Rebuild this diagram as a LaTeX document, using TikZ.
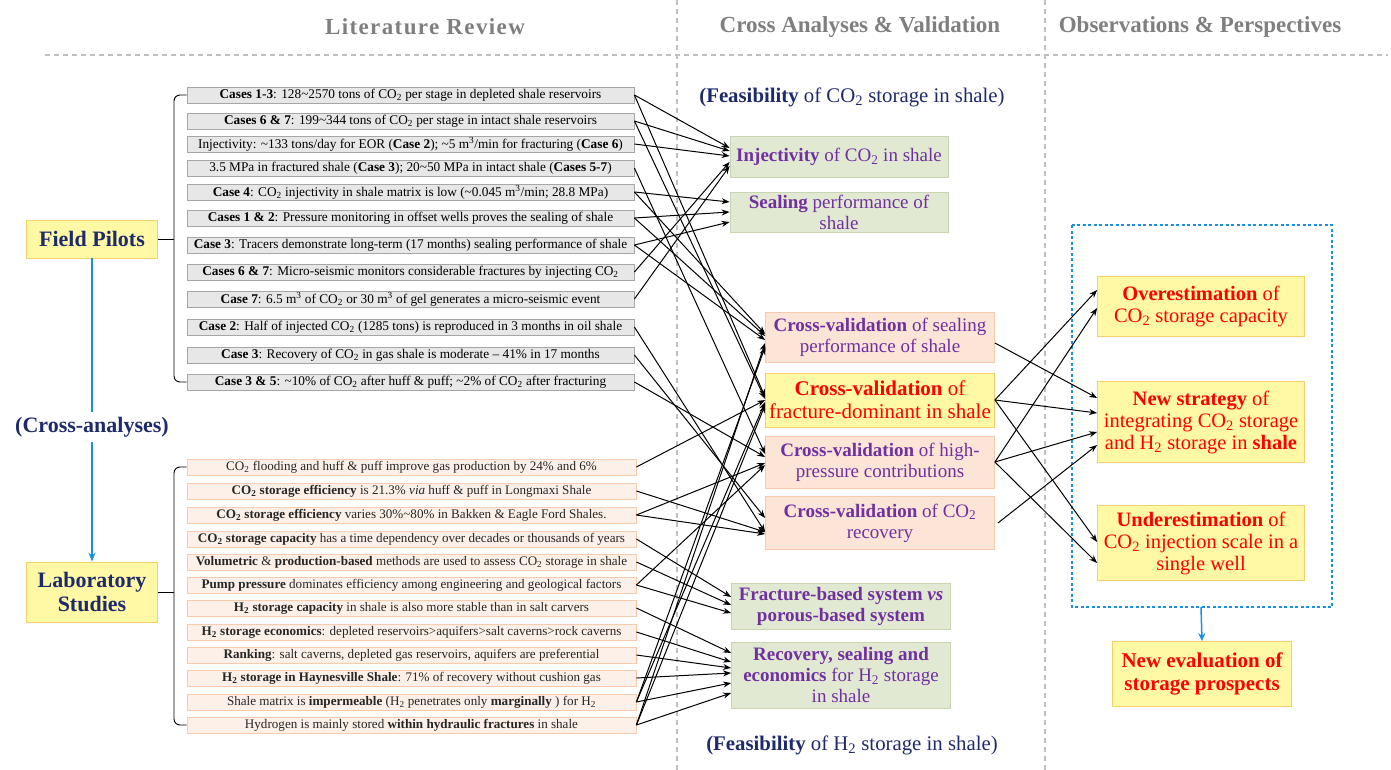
\documentclass[tikz,border=0pt]{standalone}
\usepackage{fontspec}
\setmainfont{Liberation Serif}
\usetikzlibrary{arrows.meta,calc}
\newcommand\cotwo{CO\textsubscript{2}}
\newcommand\htwo{H\textsubscript{2}}
\newcommand\mthree{m\textsuperscript{3}}
\definecolor{gfill}{HTML}{E7E7E7}
\definecolor{gdraw}{HTML}{A6A6A6}
\definecolor{lfill}{HTML}{FDF0E8}
\definecolor{ldraw}{HTML}{F8CBAD}
\definecolor{grnfill}{HTML}{E2E9D3}
\definecolor{grndraw}{HTML}{C9D5B2}
\definecolor{yfill}{HTML}{FFF9A6}
\definecolor{ydraw}{HTML}{F2D16B}
\definecolor{pfill}{HTML}{FCE4D6}
\definecolor{pdraw}{HTML}{F8CBAD}
\definecolor{navy}{HTML}{1F2A6B}
\definecolor{purp}{HTML}{7030A0}
\definecolor{redt}{HTML}{FF0000}
\definecolor{bluel}{HTML}{1A8FE3}
\definecolor{hdr}{HTML}{7F7F7F}
\definecolor{dashg}{HTML}{BFBFBF}
\definecolor{labtext}{HTML}{262626}
\begin{document}
\begin{tikzpicture}[x=1pt,y=-1pt,
  fbox/.style={draw=gdraw,fill=gfill,minimum width=447pt,minimum height=16pt,inner sep=0pt,line width=0.8pt,font=\fontsize{13.3}{15}\selectfont},
  lbox/.style={draw=ldraw,fill=lfill,minimum width=449pt,minimum height=16pt,inner sep=0pt,line width=0.8pt,text=labtext,font=\fontsize{13.1}{15}\selectfont},
  gbox/.style={draw=grndraw,fill=grnfill,line width=0.8pt,align=center,inner sep=0pt,text=purp,font=\fontsize{19}{21}\selectfont},
  pbox/.style={draw=pdraw,fill=pfill,line width=0.8pt,align=center,inner sep=0pt,text=purp,font=\fontsize{19}{21}\selectfont,minimum width=229pt},
  ybox/.style={draw=ydraw,fill=yfill,line width=0.8pt,align=center,inner sep=0pt,text=redt,font=\fontsize{20.5}{22}\selectfont},
  hdrtext/.style={text=hdr,font=\fontsize{23}{26}\selectfont\bfseries},
  navytext/.style={text=navy,font=\fontsize{20.8}{24}\selectfont},
  catbox/.style={draw=ydraw,fill=yfill,line width=0.8pt,minimum width=131pt,inner sep=0pt,align=center,text=navy,font=\fontsize{22}{24}\selectfont\bfseries},
  arr/.style={-{Stealth[length=8pt,width=6pt]},line width=1pt,black},
  dashline/.style={dashg,line width=2pt,dash pattern=on 5pt off 4pt},
  bluearr/.style={bluel,line width=1.5pt}
]
\useasboundingbox (0,0) rectangle (1391,770);
% grid lines
\draw[dashline] (45,55) -- (1388,55);
\draw[dashline] (677,0) -- (677,770);
\draw[dashline] (1045,0) -- (1045,770);
% headers
\node[hdrtext] (h1) at (425,27) {\addfontfeature{LetterSpace=6}Literature Review};
\node[hdrtext] (h2) at (860,27) {Cross Analyses \& Validation};
\node[hdrtext] (h3) at (1200,27) {Observations \& Perspectives};
% field pilot boxes
\node[fbox] (f1) at (410.5,95) {\textbf{Cases 1-3}: 128\textasciitilde2570 tons of \cotwo{} per stage in depleted shale reservoirs};
\node[fbox] (f2) at (410.5,121) {\textbf{Cases 6 \& 7}: 199\textasciitilde344 tons of \cotwo{} per stage in intact shale reservoirs};
\node[fbox] (f3) at (410.5,144) {Injectivity: \textasciitilde133 tons/day for EOR (\textbf{Case 2}); \textasciitilde5 \mthree/min for fracturing (\textbf{Case 6})};
\node[fbox] (f4) at (410.5,168) {3.5 MPa in fractured shale (\textbf{Case 3}); 20\textasciitilde50 MPa in intact shale (\textbf{Cases 5-7})};
\node[fbox] (f5) at (410.5,192) {\textbf{Case 4}: \cotwo{} injectivity in shale matrix is low (\textasciitilde0.045 \mthree/min; 28.8 MPa)};
\node[fbox] (f6) at (410.5,218) {\textbf{Cases 1 \& 2}: Pressure monitoring in offset wells proves the sealing of shale};
\node[fbox] (f7) at (410.5,245) {\textbf{Case 3}: Tracers demonstrate long-term (17 months) sealing performance of shale};
\node[fbox] (f8) at (410.5,272) {\textbf{Cases 6 \& 7}: Micro-seismic monitors considerable fractures by injecting \cotwo};
\node[fbox] (f9) at (410.5,299) {\textbf{Case 7}: 6.5 \mthree{} of \cotwo{} or 30 \mthree{} of gel generates a micro-seismic event};
\node[fbox] (f10) at (410.5,327) {\textbf{Case 2}: Half of injected \cotwo{} (1285 tons) is reproduced in 3 months in oil shale};
\node[fbox] (f11) at (410.5,355) {\textbf{Case 3}: Recovery of \cotwo{} in gas shale is moderate -- 41\% in 17 months};
\node[fbox] (f12) at (410.5,382) {\textbf{Case 3 \& 5}: \textasciitilde10\% of \cotwo{} after huff \& puff; \textasciitilde2\% of \cotwo{} after fracturing};
% lab boxes
\node[lbox] (l1) at (411.5,467) {\cotwo{} flooding and huff \& puff improve gas production by 24\% and 6\%};
\node[lbox] (l2) at (411.5,491) {\textbf{\cotwo{} storage efficiency} is 21.3\% \textit{via} huff \& puff in Longmaxi Shale};
\node[lbox] (l3) at (411.5,515) {\textbf{\cotwo{} storage efficiency} varies 30\%\textasciitilde80\% in Bakken \& Eagle Ford Shales.};
\node[lbox] (l4) at (411.5,539) {\textbf{\cotwo{} storage capacity} has a time dependency over decades or thousands of years};
\node[lbox] (l5) at (411.5,562) {\textbf{Volumetric} \& \textbf{production-based} methods are used to assess \cotwo{} storage in shale};
\node[lbox] (l6) at (411.5,585) {\textbf{Pump pressure} dominates efficiency among engineering and geological factors};
\node[lbox] (l7) at (411.5,608) {\textbf{\htwo{} storage capacity} in shale is also more stable than in salt carvers};
\node[lbox] (l8) at (411.5,632) {\textbf{\htwo{} storage economics}: depleted reservoirs>aquifers>salt caverns>rock caverns};
\node[lbox] (l9) at (411.5,655) {\textbf{Ranking}: salt caverns, depleted gas reservoirs, aquifers are preferential};
\node[lbox] (l10) at (411.5,678) {\textbf{\htwo{} storage in Haynesville Shale}: 71\% of recovery without cushion gas};
\node[lbox] (l11) at (411.5,702) {Shale matrix is \textbf{impermeable} (\htwo{} penetrates only \textbf{marginally} ) for \htwo};
\node[lbox] (l12) at (411.5,725) {Hydrogen is mainly stored \textbf{within hydraulic fractures} in shale};
% left category boxes
\node[catbox,minimum height=38pt] (fp) at (92,239) {Field Pilots};
\node[catbox,minimum height=60pt] (lab) at (92,592) {Laboratory\\Studies};
\node[text=navy,font=\fontsize{22}{24}\selectfont\bfseries,inner sep=3pt] (ca) at (92,427) {(Cross-analyses)};
\draw[bluearr] (fp.south) -- ([yshift=2pt]ca.north);
\draw[bluearr,-{Stealth[length=9pt,width=7pt]}] ([yshift=-2pt]ca.south) -- (lab.north);
% brackets
\coordinate (bx) at (174,0);
\draw[line width=0.9pt,rounded corners=6pt] (f1.west) -- (f1.west -| bx) -- (f12.west -| bx) -- (f12.west);
\draw[line width=0.9pt] (fp.east) -- (fp.east -| bx);
\draw[line width=0.9pt,rounded corners=6pt] (l1.west) -- (l1.west -| bx) -- (l12.west -| bx) -- (l12.west);
\draw[line width=0.9pt] (lab.east) -- (lab.east -| bx);
% titles
\node[navytext] (t1) at (852,97) {\textbf{(Feasibility} of \cotwo{} storage in shale)};
\node[navytext] (t2) at (852,745) {\textbf{(Feasibility} of \htwo{} storage in shale)};
% middle boxes
\node[gbox,minimum width=218pt,minimum height=41pt] (inj) at (839,157) {\textbf{Injectivity} of \cotwo{} in shale};
\node[gbox,minimum width=218pt,minimum height=40pt] (seal) at (839,212) {\textbf{Sealing} performance of\\shale};
\node[pbox,minimum height=50pt] (cvs) at (880,337) {\textbf{Cross-validation} of sealing\\performance of shale};
\node[ybox,minimum width=229pt,minimum height=54pt,font=\fontsize{21}{23}\selectfont] (cvf) at (880,400) {\textbf{Cross-validation} of\\fracture-dominant in shale};
\node[pbox,minimum height=52pt] (cvh) at (880,462) {\textbf{Cross-validation} of high-\\pressure contributions};
\node[pbox,minimum height=53pt] (cvr) at (880,523) {\textbf{Cross-validation} of \cotwo\\recovery};
\node[gbox,minimum width=219pt,minimum height=46pt] (frs) at (841,606) {\textbf{Fracture-based system \textit{vs}}\\\textbf{porous-based system}};
\node[gbox,minimum width=219pt,minimum height=66pt] (rec) at (841,675) {\textbf{Recovery, sealing and}\\\textbf{economics} for \htwo{} storage\\in shale};
% right boxes
\node[ybox,minimum width=207pt,minimum height=60pt] (over) at (1201,306) {\textbf{Overestimation} of\\\cotwo{} storage capacity};
\node[ybox,minimum width=207pt,minimum height=81pt] (news) at (1201,422) {\textbf{New strategy} of\\integrating \cotwo{} storage\\and \htwo{} storage in \textbf{shale}};
\node[ybox,minimum width=207pt,minimum height=75pt] (under) at (1201,543) {\textbf{Underestimation} of\\\cotwo{} injection scale in a\\single well};
\node[ybox,minimum width=179pt,minimum height=65pt,font=\fontsize{21}{23}\selectfont\bfseries] (neval) at (1202,674) {New evaluation of\\storage prospects};
\draw[bluel,line width=1.5pt,dash pattern=on 3pt off 2.5pt] (1072,225) rectangle (1332,607);
\coordinate (boxbot) at (1201,607);
\draw[bluearr,-{Stealth[length=8pt,width=7pt]}] (boxbot) -- (neval.north);
% connectors: field -> injectivity / sealing
\draw[arr] (f1.east) -- ([yshift=9pt]inj.west);
\draw[arr] (f2.east) -- ([yshift=6pt]inj.west);
\draw[arr] (f3.east) -- ([yshift=1pt]inj.west);
\draw[arr] (f8.east) -- ([yshift=-5pt]inj.west);
\draw[arr] (f9.east) -- ([yshift=-9pt]inj.west);
\draw[arr] (f5.east) -- ([yshift=10pt]seal.west);
\draw[arr] (f6.east) -- ([yshift=0pt]seal.west);
\draw[arr] (f7.east) -- ([yshift=-10pt]seal.west);
% field -> cross-validation
\draw[arr] (f5.east) -- ([yshift=3pt]cvs.west);
\draw[arr] (f6.east) -- ([yshift=1pt]cvs.west);
\draw[arr] (f7.east) -- ([yshift=-3pt]cvs.west);
\draw[arr] (f1.east) -- ([yshift=3pt]cvf.west);
\draw[arr] (f2.east) -- ([yshift=1pt]cvf.west);
\draw[arr] (f4.east) -- ([yshift=8pt]cvh.west);
\draw[arr] (f12.east) -- ([yshift=5pt]cvh.west);
\draw[arr] (f11.east) -- ([yshift=5pt]cvr.west);
\draw[arr] (f10.east) -- ([yshift=-9pt]cvr.west);
% lab -> cross-validation
\draw[arr] (l1.east) -- ([yshift=0pt]cvf.west);
\draw[arr] (l11.east) -- ([yshift=-10pt]cvs.west);
\draw[arr] (l11.east) -- ([yshift=-2pt]cvf.west);
\draw[arr] (l12.east) -- ([yshift=-6pt]cvs.west);
\draw[arr] (l12.east) -- ([yshift=-5pt]cvf.west);
\draw[arr] (l3.east) -- ([yshift=-1pt]cvh.west);
\draw[arr] (l6.east) -- ([yshift=-3pt]cvh.west);
\draw[arr] (l2.east) -- ([yshift=-9pt]cvr.west);
\draw[arr] (l3.east) -- ([yshift=-11pt]cvr.west);
% lab -> H2 boxes
\draw[arr] (l4.east) -- ([yshift=9pt]frs.west);
\draw[arr] (l5.east) -- ([yshift=1pt]frs.west);
\draw[arr] (l6.east) -- ([yshift=-7pt]frs.west);
\draw[arr] (l7.east) -- ([yshift=22pt]rec.west);
\draw[arr] (l8.east) -- ([yshift=13pt]rec.west);
\draw[arr] (l9.east) -- ([yshift=7pt]rec.west);
\draw[arr] (l10.east) -- ([yshift=2pt]rec.west);
\draw[arr] (l11.east) -- ([yshift=-8pt]rec.west);
\draw[arr] (l12.east) -- ([yshift=-18pt]rec.west);
% cross-validation -> observations
\draw[arr] ([yshift=-6pt]cvs.east) -- ([yshift=24pt]news.west);
\draw[arr] (cvf.east) -- ([yshift=16pt]over.west);
\draw[arr] (cvf.east) -- ([yshift=9pt]news.west);
\draw[arr] (cvf.east) -- ([yshift=1pt]under.west);
\draw[arr] (cvh.east) -- ([yshift=-2pt]over.west);
\draw[arr] (cvh.east) -- ([yshift=-10pt]news.west);
\draw[arr] (cvh.east) -- ([yshift=-20pt]under.west);
\draw[arr] ([xshift=3pt]cvr.east) -- ([yshift=-23pt]news.west);
\end{tikzpicture}
\end{document}
